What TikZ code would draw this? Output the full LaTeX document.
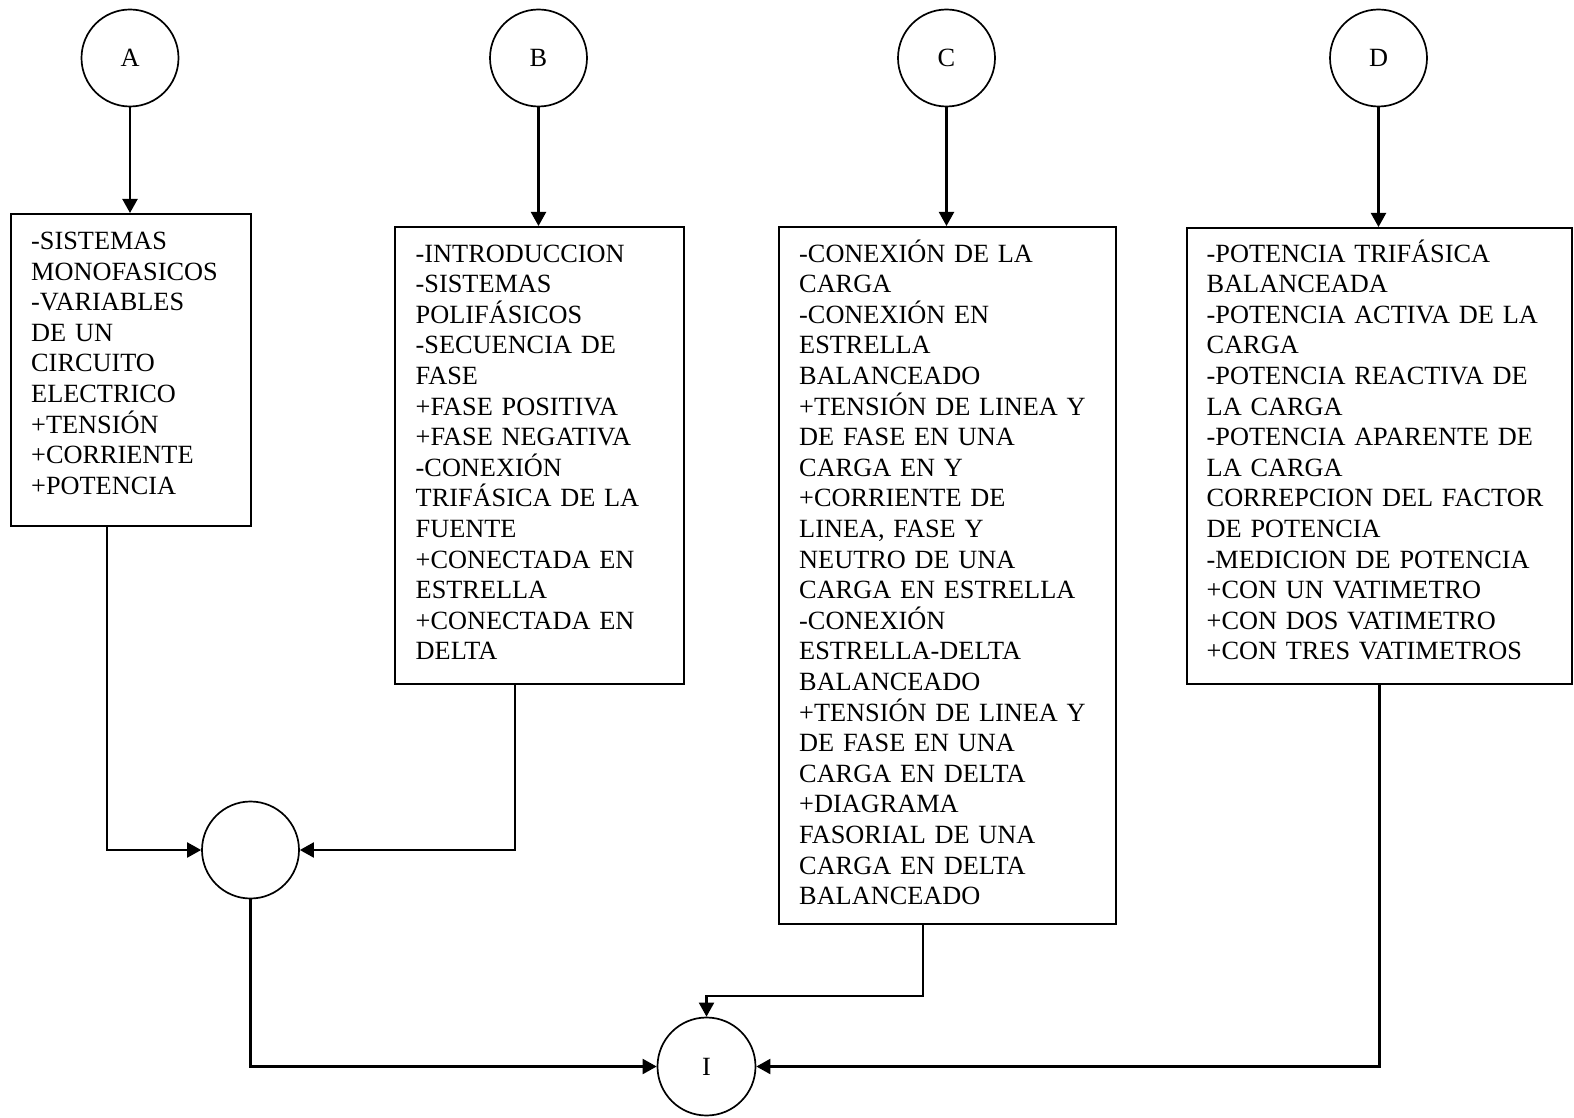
\documentclass[tikz,border=0pt]{standalone}
\usepackage{fontspec}
\setmainfont{Liberation Serif}
\usetikzlibrary{arrows.meta}
\begin{document}
\begin{tikzpicture}[x=1pt,y=-1pt,
  topic/.style={circle, draw, line width=1.7pt, minimum size=97pt, inner sep=0pt, font=\fontsize{26.3}{30.6}\selectfont},
  boxframe/.style={draw, line width=2pt, rectangle, inner sep=0pt, anchor=north west},
  boxtext/.style={anchor=base west, align=left, inner sep=0pt, font=\fontsize{26.3}{30.6}\selectfont},
  link/.style={line width=2.1pt, -{Triangle[length=14pt,width=15pt]}}
]
\useasboundingbox (0,0) rectangle (1574,1118);

% top circles
\node[topic] (cA) at (130,58) {A};
\node[topic] (cB) at (538.5,58) {B};
\node[topic] (cC) at (946.5,58) {C};
\node[topic] (cD) at (1378.5,58) {D};

% boxes
\node[boxframe, minimum width=240pt, minimum height=312pt] (bA) at (10,213) {};
\node[boxframe, minimum width=289pt, minimum height=457pt] (bB) at (394,226) {};
\node[boxframe, minimum width=337pt, minimum height=697pt] (bC) at (778,226) {};
\node[boxframe, minimum width=385pt, minimum height=456pt] (bD) at (1186,227) {};

% texts
\node[boxtext, text width=215pt] (tA) at (31,249.5) {-SISTEMAS\\MONOFASICOS\\-VARIABLES\\DE UN\\CIRCUITO\\ELECTRICO\\+TENSIÓN\\+CORRIENTE\\+POTENCIA};
\node[boxtext, text width=270pt] (tB) at (415.5,262) {-INTRODUCCION\\-SISTEMAS\\POLIFÁSICOS\\-SECUENCIA DE\\FASE\\+FASE POSITIVA\\+FASE NEGATIVA\\-CONEXIÓN\\TRIFÁSICA DE LA\\FUENTE\\+CONECTADA EN\\ESTRELLA\\+CONECTADA EN\\DELTA};
\node[boxtext, text width=310pt] (tC) at (799,262) {-CONEXIÓN DE LA\\CARGA\\-CONEXIÓN EN\\ESTRELLA\\BALANCEADO\\+TENSIÓN DE LINEA Y\\DE FASE EN UNA\\CARGA EN Y\\+CORRIENTE DE\\LINEA, FASE Y\\NEUTRO DE UNA\\CARGA EN ESTRELLA\\-CONEXIÓN\\ESTRELLA-DELTA\\BALANCEADO\\+TENSIÓN DE LINEA Y\\DE FASE EN UNA\\CARGA EN DELTA\\+DIAGRAMA\\FASORIAL DE UNA\\CARGA EN DELTA\\BALANCEADO};
\node[boxtext, text width=360pt] (tD) at (1206.5,262) {-POTENCIA TRIFÁSICA\\BALANCEADA\\-POTENCIA ACTIVA DE LA\\CARGA\\-POTENCIA REACTIVA DE\\LA CARGA\\-POTENCIA APARENTE DE\\LA CARGA\\CORREPCION DEL FACTOR\\DE POTENCIA\\-MEDICION DE POTENCIA\\+CON UN VATIMETRO\\+CON DOS VATIMETRO\\+CON TRES VATIMETROS};

% lower circles
\node[topic] (J) at (250.5,850) {};
\node[topic, minimum size=98pt] (I) at (706.5,1066.5) {I};

% connectors
\draw[link] (cA.south) -- (cA.south |- bA.north);
\draw[link] (cB.south) -- (cB.south |- bB.north);
\draw[link] (cC.south) -- (cC.south |- bC.north);
\draw[link] (cD.south) -- (cD.south |- bD.north);

\draw[link] ([xshift=-24pt]bA.south) |- (J.west);
\draw[link] ([xshift=-24.5pt]bB.south) |- (J.east);
\draw[link] (J.south) |- (I.west);
\draw[link] ([xshift=-24.5pt]bC.south) -- ++(0,71) -| (I.north);
\draw[link] (bD.south) |- (I.east);
\end{tikzpicture}
\end{document}
